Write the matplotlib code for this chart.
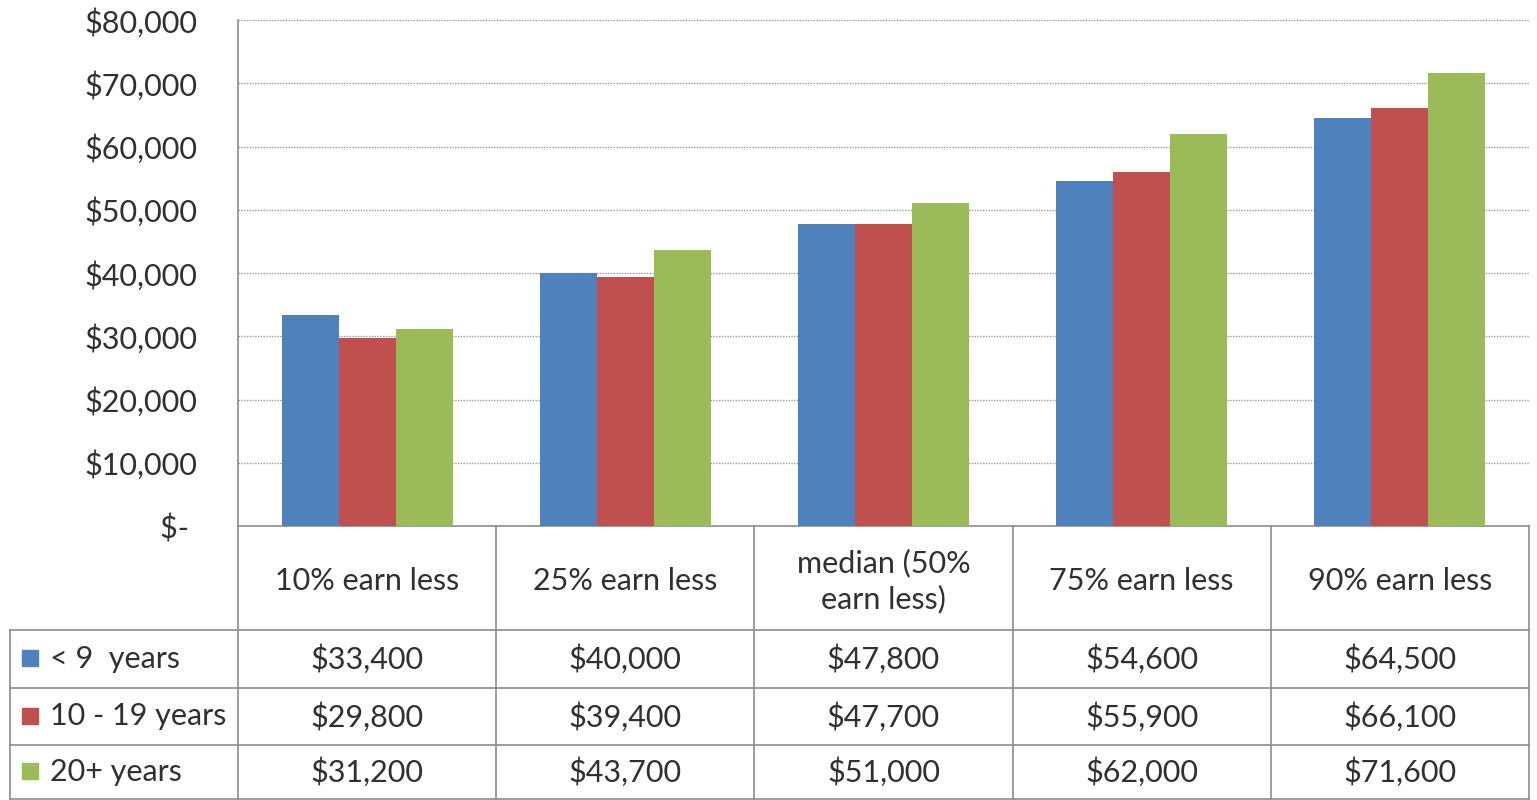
import numpy as np
import matplotlib.pyplot as plt
from matplotlib.patches import Rectangle
from matplotlib.lines import Line2D
import matplotlib.transforms as mtransforms

plt.rcParams['font.family'] = ['Lato', 'DejaVu Sans']

# data
categories = ['10% earn less', '25% earn less', 'median (50%\nearn less)',
              '75% earn less', '90% earn less']
series_names = ['< 9  years', '10 - 19 years', '20+ years']
under_9 = [33400, 40000, 47800, 54600, 64500]
y10_19 = [29800, 39400, 47700, 55900, 66100]
y20_plus = [31200, 43700, 51000, 62000, 71600]
yticks = [0, 10000, 20000, 30000, 40000, 50000, 60000, 70000, 80000]

series = [under_9, y10_19, y20_plus]
colors = ['#4F81BD', '#C0504D', '#9BBB59']
grid_col = '#8c8c8c'
text_col = '#303030'
fs = 22

W, H = 1537, 800
fig = plt.figure(figsize=(W / 100, H / 100), dpi=100)

# pixel helpers (y from top)
def fx(px):
    return px / W

def fy(py):
    return 1 - py / H

x_left, x_right = 238, 1529
y_top, y_zero = 20, 526
ax = fig.add_axes([fx(x_left), fy(y_zero), fx(x_right) - fx(x_left), fy(y_top) - fy(y_zero)])

x = np.arange(len(categories))
bw = 0.221
for i, vals in enumerate(series):
    ax.bar(x + (i - 1) * bw, vals, bw, color=colors[i], zorder=3)

ax.set_xlim(-0.5, len(categories) - 0.5)
ax.set_ylim(0, 80000)
ax.set_yticks(yticks)
ax.set_yticklabels(['$- ' if v == 0 else f'${v:,}' for v in yticks],
                   fontsize=fs, color=text_col)
ax.tick_params(axis='y', length=0, pad=29.5)
ax.set_xticks([])
ax.yaxis.grid(True, linestyle=(0, (1, 1)), color='#9a9a9a', linewidth=1.0, zorder=0)
for s in ['top', 'right']:
    ax.spines[s].set_visible(False)
for s in ['left', 'bottom']:
    ax.spines[s].set_color(grid_col)
    ax.spines[s].set_linewidth(1.2)

# data table under the axes
trans = mtransforms.blended_transform_factory(ax.transData, fig.transFigure)
row_lines = [630, 688, 745, 799]
x_leg = 10

def hline(py, px0, px1):
    fig.add_artist(Line2D([fx(px0), fx(px1)], [fy(py), fy(py)], color=grid_col, lw=1.2))

def vline(px, py0, py1):
    fig.add_artist(Line2D([fx(px), fx(px)], [fy(py0), fy(py1)], color=grid_col, lw=1.2))

for py in row_lines:
    hline(py, x_leg, x_right)
for k in range(len(categories) + 1):
    xb = ax.transData.transform((k - 0.5, 0))[0]
    vline(xb, y_zero, 799)
vline(x_leg, row_lines[0], 799)

# header row
for k, cat in enumerate(categories):
    fig.text(k, fy((y_zero + row_lines[0]) / 2 + 3), cat, transform=trans,
             ha='center', va='center', fontsize=fs, color=text_col, linespacing=1.3)

# value rows with legend keys
row_bounds = [(row_lines[0], row_lines[1]), (row_lines[1], row_lines[2]), (row_lines[2], row_lines[3])]
for i, vals in enumerate(series):
    yc = (row_bounds[i][0] + row_bounds[i][1]) / 2
    fig.add_artist(Rectangle((fx(22), fy(yc + 7)), fx(16), 16 / H,
                             transform=fig.transFigure, color=colors[i]))
    fig.text(fx(50), fy(yc), series_names[i], ha='left', va='center',
             fontsize=fs, color=text_col)
    for k, v in enumerate(vals):
        fig.text(k, fy(yc), f'${v:,}', transform=trans, ha='center', va='center',
                 fontsize=fs, color=text_col)

fig.savefig('out.png', dpi=100)
